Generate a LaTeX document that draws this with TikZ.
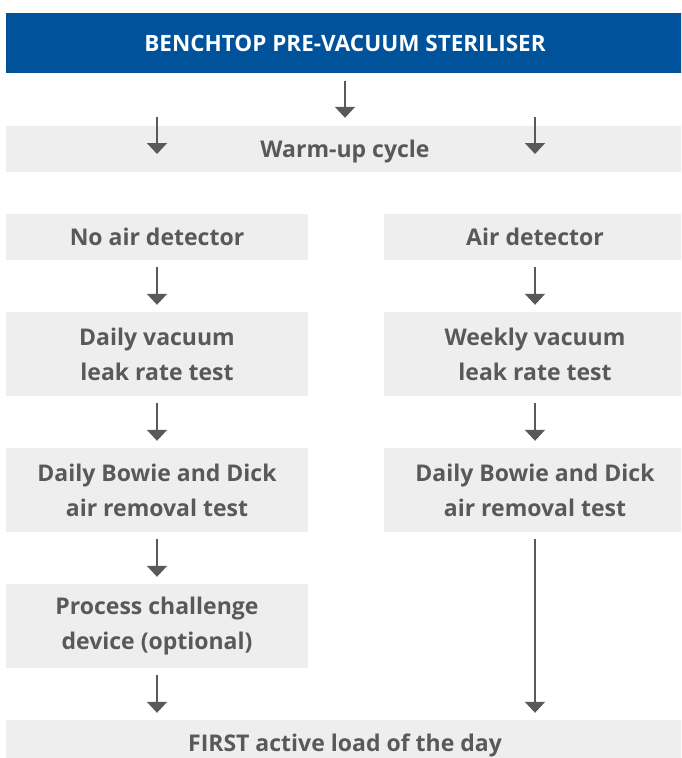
\documentclass[tikz,border=0pt]{standalone}
\usepackage{fontspec}
\setmainfont{Open Sans}
\usetikzlibrary{arrows.meta}
\usetikzlibrary{positioning}
\definecolor{headblue}{HTML}{00529B}
\definecolor{boxgrey}{HTML}{EEEEEE}
\definecolor{textgrey}{HTML}{58595B}

\begin{document}
\begin{tikzpicture}[x=1pt,y=-1pt]
		\tikzset{vertex/.style = {shape=rectangle, fill=boxgrey, inner sep=0pt, align=center, text=textgrey,
				font=\bfseries\fontsize{23}{35}\selectfont},
			header/.style = {vertex, fill=headblue, text=white, font=\bfseries\fontsize{22.5}{26}\selectfont},
			flow/.style = {draw=textgrey, line width=2pt, -{Triangle[width=20pt,length=11pt]}, shorten <=7pt, shorten >=7pt}}
		\clip (0,0) rectangle (681,758);
		\node[header, minimum width=678pt, minimum height=60pt] (TITLE) at (345,43) {BENCHTOP PRE-VACUUM STERILISER};
		\node[vertex, minimum width=678pt, minimum height=46pt, text depth=0pt] (WARM) at (345,149) {Warm-up cycle};
		\node[vertex, minimum width=302pt, minimum height=46pt] (NOAIR) at (157,237) {No air detector};
		\node[vertex, minimum width=302pt, minimum height=46pt] (AIR) at (535,237) {Air detector};
		\node[vertex, minimum width=302pt, minimum height=84pt] (DAILYVAC) at (157,354) {Daily vacuum\\leak rate test};
		\node[vertex, minimum width=302pt, minimum height=84pt] (WEEKLYVAC) at (535,354) {Weekly vacuum\\leak rate test};
		\node[vertex, minimum width=302pt, minimum height=84pt] (BDLEFT) at (157,490) {Daily Bowie and Dick\\air removal test};
		\node[vertex, minimum width=302pt, minimum height=84pt] (BDRIGHT) at (535,490) {Daily Bowie and Dick\\air removal test};
		\node[vertex, minimum width=302pt, minimum height=84pt] (PCD) at (157,626) {Process challenge\\device (optional)};
		\node[vertex, minimum width=678pt, minimum height=50pt] (FIRST) at (345,745) {FIRST active load of the day};
		\coordinate (WL) at (157,117);
		\coordinate (WR) at (535,117);
		
		\draw[flow, shorten <=8pt, shorten >=8pt] (TITLE) -- (WARM);
		\draw[flow, shorten <=0pt, shorten >=0pt] (WL) -- ++(0,37);
		\draw[flow, shorten <=0pt, shorten >=0pt] (WR) -- ++(0,37);
		\draw[flow] (NOAIR) -- (DAILYVAC);
		\draw[flow] (DAILYVAC) -- (BDLEFT);
		\draw[flow] (BDLEFT) -- (PCD);
		\draw[flow] (PCD) -- (PCD |- FIRST.north);
		\draw[flow] (AIR) -- (WEEKLYVAC);
		\draw[flow] (WEEKLYVAC) -- (BDRIGHT);
		\draw[flow] (BDRIGHT) -- (BDRIGHT |- FIRST.north);
		
		\end{tikzpicture}
\end{document}
